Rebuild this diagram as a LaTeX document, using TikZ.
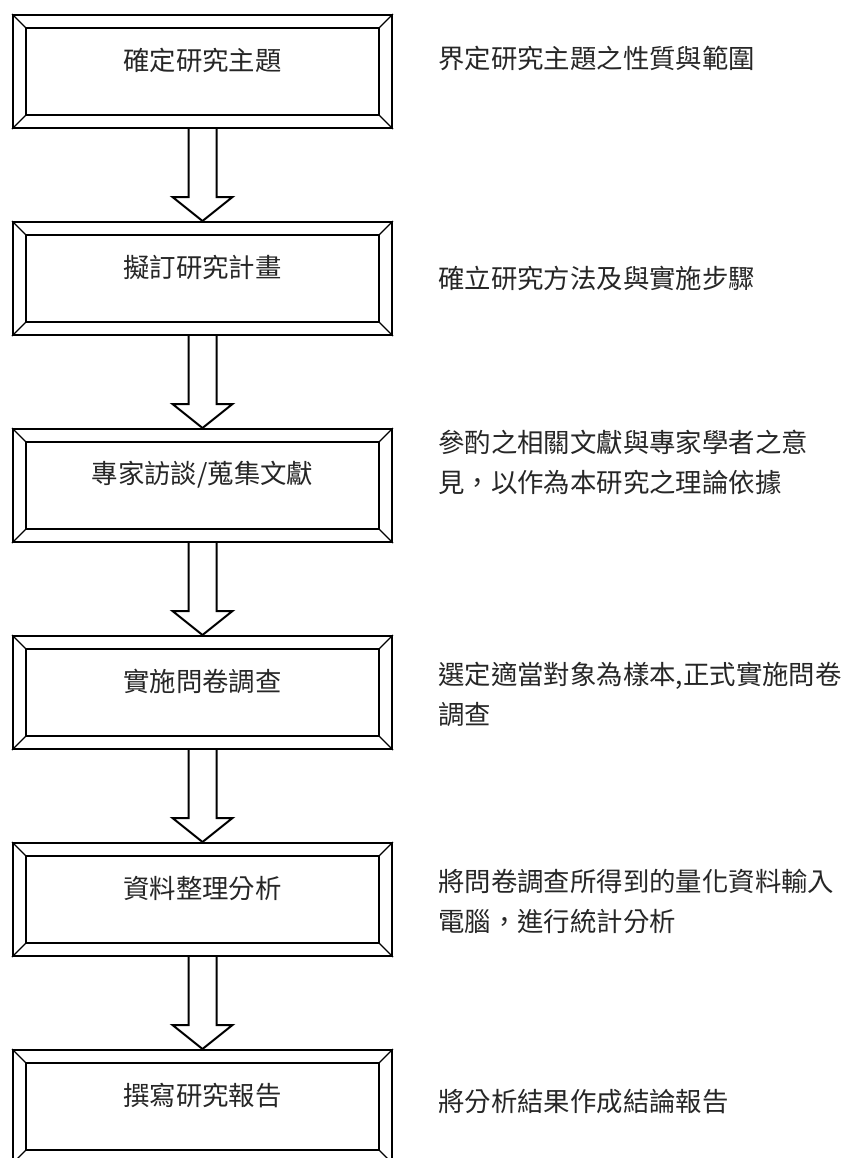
\documentclass[tikz,border=0pt]{standalone}
\usepackage{fontspec}
\setmainfont{Noto Sans CJK TC}
\usetikzlibrary{calc}

\tikzset{
  stagebox/.style={draw, line width=1.5pt, minimum width=284.25pt, minimum height=84.75pt, inner sep=0pt},
  bevel/.style={line width=1.1pt},
  stagetext/.style={font=\fontsize{19.8}{30}\selectfont, text=black!85, inner sep=0pt},
  notetext/.style={font=\fontsize{19.8}{30}\selectfont, text=black!85, align=left, anchor=west, inner sep=0pt},
  blockarrow/.style={draw, line width=1.5pt, line join=miter},
}

\begin{document}
\begin{tikzpicture}[x=0.75pt, y=0.75pt]
    \useasboundingbox (0,0) rectangle (855,-1158);

    % bevelled stage boxes
    \foreach \i/\txt in {1/確定研究主題, 2/擬訂研究計畫, 3/{專家訪談/蒐集文獻},
                         4/實施問卷調查, 5/資料整理分析, 6/撰寫研究報告} {
        \node[stagebox] (s\i) at (202.5,{-71.5-207*(\i-1)}) {};
        \draw[bevel] ($(s\i.north west)+(14,-14)$) rectangle ($(s\i.south east)+(-14,14)$);
        \draw[bevel, line width=0.9pt]
            (s\i.north west) -- ++(14,-14)
            (s\i.north east) -- ++(-14,-14)
            (s\i.south west) -- ++(14,14)
            (s\i.south east) -- ++(-14,14);
        \node[stagetext] (t\i) at ($(s\i.center)+(0,11)$) {\txt};
    }

    % block arrows between stages
    \foreach \i/\j in {1/2, 2/3, 3/4, 4/5, 5/6} {
        \draw[blockarrow]
            ($(s\i.south)+(-14,0)$) -- ($(s\j.north)+(-14,24)$)
            -- ($(s\j.north)+(-30,24)$) -- (s\j.north)
            -- ($(s\j.north)+(30,24)$) -- ($(s\j.north)+(14,24)$)
            -- ($(s\i.south)+(14,0)$);
    }

    % notes on the right
    \node[notetext] (n1) at (438,-58) {界定研究主題之性質與範圍};
    \node[notetext] (n2) at (438,-278) {確立研究方法及與實施步驟};
    \node[notetext] (n3) at (438,-462) {參酌之相關文獻與專家學者之意\\見，以作為本研究之理論依據};
    \node[notetext] (n4) at (438,-694) {選定適當對象為樣本,正式實施問卷\\調查};
    \node[notetext] (n5) at (438,-901) {將問卷調查所得到的量化資料輸入\\電腦，進行統計分析};
    \node[notetext] (n6) at (438,-1102) {將分析結果作成結論報告};
\end{tikzpicture}
\end{document}
